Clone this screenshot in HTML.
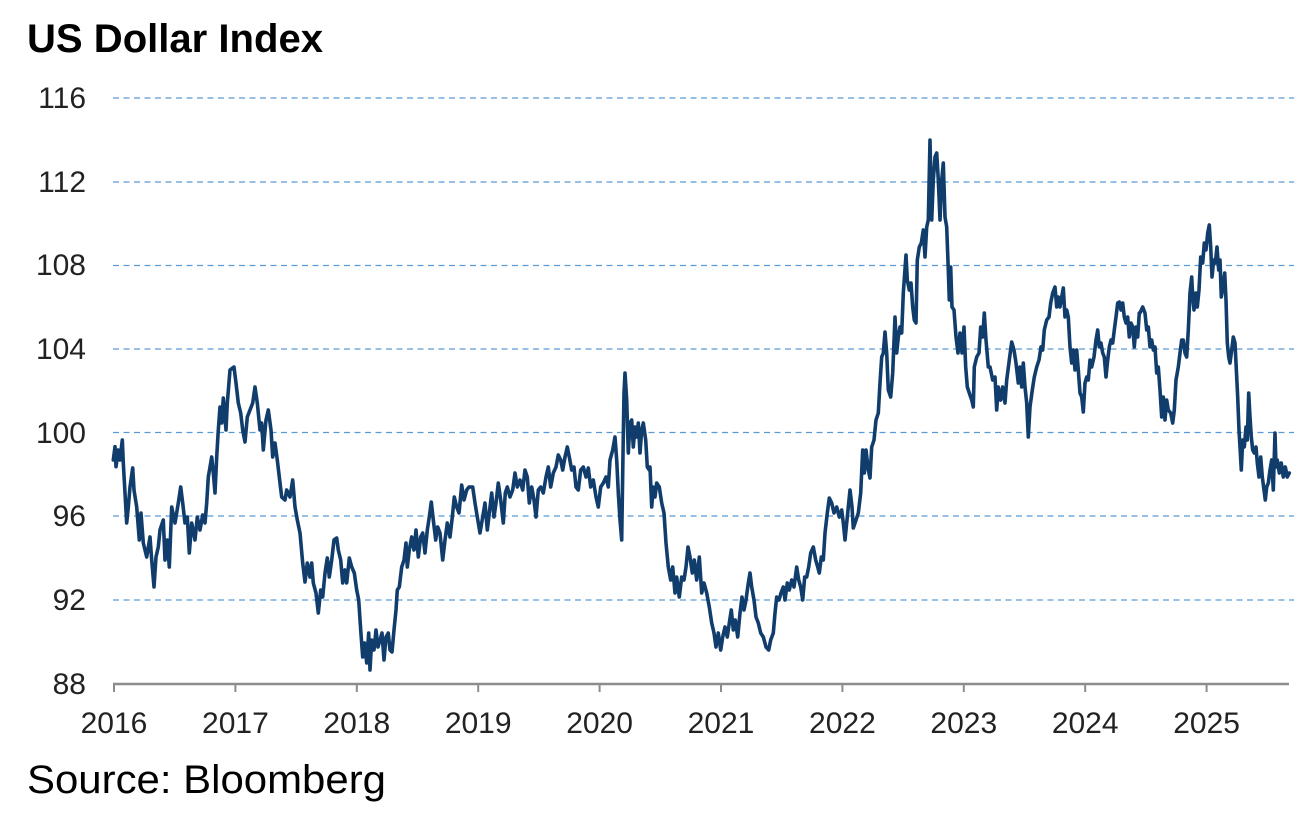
<!DOCTYPE html>
<html><head><meta charset="utf-8"><style>
html,body{margin:0;padding:0;background:#fff;}
svg{display:block;}
</style></head><body>
<svg width="1294" height="814" viewBox="0 0 1294 814" xmlns="http://www.w3.org/2000/svg">
<rect width="1294" height="814" fill="#fff"/>
<text x="27" y="52" font-family="Liberation Sans, sans-serif" font-weight="bold" font-size="40" fill="#000" textLength="296" lengthAdjust="spacingAndGlyphs">US Dollar Index</text>
<g stroke="#5b9bd5" stroke-width="1.3" stroke-dasharray="6,4.5">
<line x1="113" y1="98" x2="1294" y2="98"/>
<line x1="113" y1="182" x2="1294" y2="182"/>
<line x1="113" y1="265.5" x2="1294" y2="265.5"/>
<line x1="113" y1="349" x2="1294" y2="349"/>
<line x1="113" y1="432.5" x2="1294" y2="432.5"/>
<line x1="113" y1="516" x2="1294" y2="516"/>
<line x1="113" y1="600" x2="1294" y2="600"/>
</g>
<g font-family="Liberation Sans, sans-serif" font-size="30" fill="#222" text-anchor="end">
<text x="86" y="108">116</text>
<text x="86" y="192">112</text>
<text x="86" y="275">108</text>
<text x="86" y="359">104</text>
<text x="86" y="443">100</text>
<text x="86" y="526">96</text>
<text x="86" y="610">92</text>
<text x="86" y="694">88</text>
</g>
<g stroke="#8c8c8c" stroke-width="2">
<line x1="113" y1="684" x2="1289" y2="684" stroke-width="2.6"/>
<line x1="114" y1="684" x2="114" y2="692"/>
<line x1="235.4" y1="684" x2="235.4" y2="692"/>
<line x1="356.8" y1="684" x2="356.8" y2="692"/>
<line x1="478.2" y1="684" x2="478.2" y2="692"/>
<line x1="599.6" y1="684" x2="599.6" y2="692"/>
<line x1="721" y1="684" x2="721" y2="692"/>
<line x1="842.4" y1="684" x2="842.4" y2="692"/>
<line x1="963.8" y1="684" x2="963.8" y2="692"/>
<line x1="1085.2" y1="684" x2="1085.2" y2="692"/>
<line x1="1206.6" y1="684" x2="1206.6" y2="692"/>
</g>
<g font-family="Liberation Sans, sans-serif" font-size="30" fill="#222" text-anchor="middle">
<text x="114" y="733">2016</text>
<text x="235.4" y="733">2017</text>
<text x="356.8" y="733">2018</text>
<text x="478.2" y="733">2019</text>
<text x="599.6" y="733">2020</text>
<text x="721" y="733">2021</text>
<text x="842.4" y="733">2022</text>
<text x="963.8" y="733">2023</text>
<text x="1085.2" y="733">2024</text>
<text x="1206.6" y="733">2025</text>
</g>
<polyline fill="none" stroke="#113d6d" stroke-width="3.6" stroke-linejoin="round" stroke-linecap="round" points="
113.3,460 115,446.7 116,466.7 118.3,450 120,460 122.3,440 123.3,463 125,493 126.7,523 128.3,507 130,487 132.7,468 134,490 136.7,507 139.3,540 141,513 143.3,543 146.7,557 150,537 151.7,560 154,587 156,557 158.3,547 160,530 163.3,520 165,560 167.3,540 169.3,567 171.7,507 175,523 178.3,503 180.7,487 182.7,503 185,523 187.3,517 189.3,553 191.7,523 195,540 197.3,517 200,530 202.7,515 205,523 206.7,503 208.3,477 211.7,457 213.3,473 215,493 216.7,457 218.3,430 220,407 221.7,423 223.3,398 226,430 227.3,403 230,370 234,367 236,383 238.3,403 240.7,413 242.7,430 245,442 247.3,417 250,410 252.7,403 255,387 257.3,403 260,430 261.7,423 263.3,450 266,420 268.3,410 271,430 272.7,457 275,443 277.3,460 280,483 281.7,497 285,500 286.7,490 290,497 292.7,480 295,507 297.3,520
300,533 302.7,563 305,582 307.3,563 310,577 311.7,563 313.3,583 316,593 318.3,613 320.7,590 322.7,597 325,573 327.3,558 329.3,577 331.7,560 334,540 336.7,538 338.3,550 340.7,560 342.7,583 345,570 346.7,583 349.3,558 351.7,567 354.3,573 356.7,590 358.7,600 360.7,630 362.7,657 364.7,643 366.7,663 368.7,633 370,670 371.7,640 374,650 376,630 378,647 380,640 382,633 384,660 386,637 388.3,633 390,650 392,652 394,630 396,610 397.3,590 399.3,587 401.7,567 404,560 406,543 407.3,567 409.3,550 411.7,537 414,550 416,530 418.3,557 420.7,537 422.7,533 425,553 427.3,530 429.3,517 431.3,502 433.3,520 435.7,540 437.7,527 440,533 442.7,560 445,540 447.3,523 450,537 452.3,517 454.3,497 456.7,507 459,513 461.7,485 464,500 466.7,490 469,487
472.7,487 475,503 477.3,517 480,533 482.7,517 485,503 487.3,530 489.3,513 491.7,493 494,517 496,503 498.3,483 500.7,500 503.3,523 505.3,493 507.3,487 510,497 512.7,490 515,473 517.3,487 520,480 522.7,490 525,470 527.3,477 529.3,503 531.7,487 534,500 536,517 538.3,490 540.7,487 543.3,493 546,477 548.3,467 550.7,487 553.3,473 556,467 558.3,455 560.7,460 562.7,470 565,457 567.3,447 569.3,457 571.7,470 574,467 576,487 578.3,490 580.7,470 583.3,467 586,477 588.3,468 590.7,487 593.3,480 596,497 598.3,507 600.7,487 603.3,483 606,477 608.3,487 610,460 612.7,450 615,437 616.7,460 618.3,493 620,520 621.7,540 622.7,473 624,393 625,373 626.7,400 628.3,453 630,423 631.7,420 633.3,447 635,427 636.7,437 638.3,423 640,453 641.7,430 643.3,423 645.7,440 647.3,467 649.3,470
650,467 651.7,507 653.3,487 655,497 656.7,483 659.3,487 661.7,503 664,513 666,543 668.3,567 670.7,580 672.7,567 675,593 676.7,577 679.3,597 681.7,577 684,580 686,567 688,547 690,557 692.3,573 694.3,560 696.7,580 699.3,557 701.7,593 704,583 706.7,593 709.3,607 711.7,623 714,633 716,647 718.3,633 720.7,650 722.7,637 725,627 727.3,637 729.3,623 731.3,610 733.3,630 735.3,620 737.7,637 740,613 742,597 744,610 746,600 748.3,583 750,573 751.7,587 754,600 756,617 758.3,623 760.7,633 763.3,637 766,647 768.7,650 770.7,640 773.3,633 775,613 776.7,597 779,600 781,593 783.3,587 785,600 787.3,583 789.3,590 791.7,580 794,587 796.7,567 798.7,580 800.7,587 802.7,600 804.7,577 806.7,577 808.7,567 810.7,553 813.3,547 815.7,560 817.7,567 819.3,573 821.3,557 823.3,560 825,533 827.3,513 829.3,498
831.7,503 834,513 836.7,507 839.3,517 841.7,510 843.3,523 845,540 847.3,517 850,490 852,507 853.3,528 856,520 858.3,513 860.7,493 862.7,450 864.3,473 866,450 868.3,470 870,478 871.7,447 874,440 876,420 878.3,413 880,383 881.7,357 883.3,353 885,332 886.7,353 888.3,390 890.7,397 892.7,373 895,317 896.7,353 898.3,337 900,327 901.7,333 903.3,293 906,255 907.3,280 909.3,290 911,283 912.7,307 914.3,320 916,323 917.3,260 919.3,247 921.3,243 923.3,230 925,257 926.7,227 928.3,220 930,140 931.7,220 933.3,180 935,157 936.7,153 938.3,180 940,220 941.7,180 943.3,163 945,217 946.7,227 948.3,270 949.3,300 950.7,267 952,307 954,310 956,337 958,353 960,333 962,353 964,327 965.7,367 967.3,387 969.3,393 971.7,400 973.3,407 974.3,367 976.7,357 979,353 980.7,327 982.7,337 984.3,313 986,340 988.3,367
990,367 992.7,380 995,377 996.7,410 998.3,387 1000.7,400 1002.7,387 1005,403 1006.7,380 1009.3,360 1011.7,342 1014,350 1016,363 1018.3,383 1020,367 1021.7,387 1023.3,363 1025,387 1026.7,403 1028.3,437 1030,407 1032.3,390 1034.3,377 1036.7,367 1039,360 1041,347 1042.7,350 1044.3,330 1046.7,320 1049,317 1050.7,303 1052.7,293 1055,287 1056.7,307 1058.3,297 1060,307 1061.7,297 1063.3,288 1065,317 1066.7,310 1068.3,317 1070,347 1071.7,363 1073.3,350 1075,370 1076.7,350 1078.3,370 1080,393 1081.7,397 1083.3,412 1085,383 1086.7,377 1088.3,380 1090,360 1091.7,367 1094,357 1096,340 1097.7,330 1099.3,347 1101,343 1102.7,353 1104.3,357 1106,377 1107.7,360 1109.3,347 1111,340 1112.7,343 1114.3,330 1116,317 1117.7,303 1119.3,302 1121,310 1122.7,303 1124.3,317 1126,323 1127.7,317 1129.3,337 1131,323 1132.7,327 1134.3,347 1136,327 1137.7,337 1139.3,313
1140,313 1142.7,307 1145,313 1146.7,330 1148.3,327 1150,347 1151.7,340 1153.3,350 1155,347 1156.7,373 1158.3,367 1160,390 1161.7,417 1163.3,397 1165,420 1166.7,400 1168.3,410 1170.7,413 1172.7,423 1174.3,410 1176,380 1178.3,367 1180,353 1181.7,340 1183.3,340 1185,353 1186.7,357 1188.3,330 1190,293 1191.7,277 1192.7,297 1194,310 1195.7,293 1197.3,307 1199,290 1200.7,257 1202.7,263 1204.3,243 1206,250 1207.7,233 1209.3,225 1210.7,247 1212,277 1213.7,260 1215.3,263 1217,247 1218.7,270 1220,260 1221.3,297 1223,287 1224.7,273 1226,300 1227.3,343 1228.7,357 1230,363 1231.7,350 1233.3,337 1235,343 1236.7,377 1237.7,397 1239,430 1240,447 1241.3,470 1242.7,440 1244.3,447 1246,427 1247.3,440 1248.7,393 1250,417 1251.3,437 1252.7,450 1254.3,453 1256,447 1257.3,463 1259,477 1260.7,457 1262.3,477 1264,490 1265.3,500 1266.7,487 1268.3,483 1270,470 1271.7,460 1273.3,490 1275,433 1276,467 1277.3,460 1279.3,473 1281.3,463 1283.3,477 1285.3,467 1287.3,477 1289.3,473"/>
<text x="27" y="793" font-family="Liberation Sans, sans-serif" font-size="40" fill="#000" textLength="359" lengthAdjust="spacingAndGlyphs">Source: Bloomberg</text>
</svg>
</body></html>
